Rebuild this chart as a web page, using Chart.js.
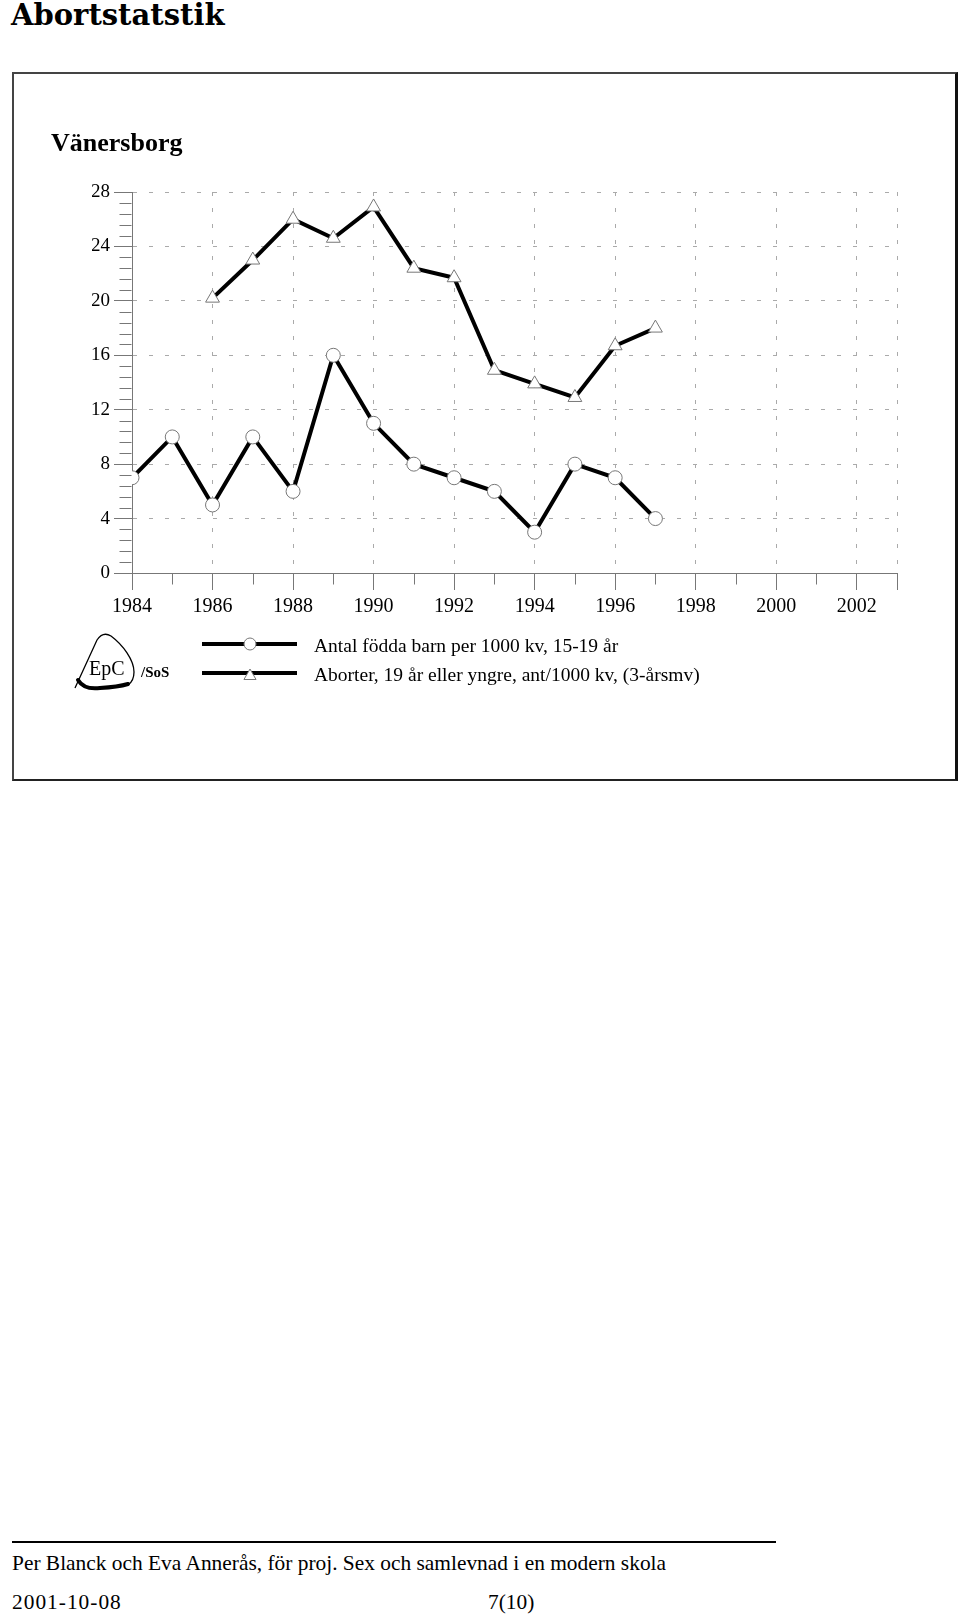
<!DOCTYPE html>
<html>
<head>
<meta charset="utf-8">
<title>Abortstatstik</title>
<script src="https://cdn.jsdelivr.net/npm/chart.js@4.4.0/dist/chart.umd.min.js"></script>
<style>
  body { margin: 0; background: #fff; width: 960px; height: 1616px; position: relative; overflow: hidden; }
  #title { position: absolute; left: 11px; top: 1px; font: bold 29px/29px 'DejaVu Serif', serif; color: #000; }
  #box { position: absolute; left: 12px; top: 72px; width: 941px; height: 705px;
         border-left: 2px solid #444; border-top: 2px solid #444; border-right: 3px solid #111; border-bottom: 2px solid #222; }
  #place { position: absolute; left: 51px; top: 130px; font: bold 26px/26px 'Liberation Serif', serif; color: #000; }
  #chart { position: absolute; left: 0; top: 0; }
  #rule { position: absolute; left: 12px; top: 1541px; width: 764px; height: 2px; background: #000; }
  .foot { position: absolute; font: 21.4px/21px 'Liberation Serif', serif; color: #000; white-space: nowrap; }
</style>
</head>
<body>
<div id="title">Abortstatstik</div>
<div id="box"></div>
<canvas id="chart" width="960" height="800"></canvas>
<div id="place">Vänersborg</div>
<div id="rule"></div>
<div class="foot" style="left:12px; top:1553px;">Per Blanck och Eva Annerås, för proj. Sex och samlevnad i en modern skola</div>
<div class="foot" style="left:12px; top:1592px; letter-spacing:1px;">2001-10-08</div>
<div class="foot" style="left:488px; top:1592px;">7(10)</div>

<script>
  // values
  var years = [1984, 1985, 1986, 1987, 1988, 1989, 1990, 1991, 1992, 1993, 1994, 1995, 1996, 1997];
  var births = [7, 10, 5, 10, 6, 16, 11, 8, 7, 6, 3, 8, 7, 4];
  var abortions = [null, null, 20.2, 23, 26, 24.6, 26.9, 22.4, 21.7, 14.9, 13.9, 12.9, 16.7, 18];
  var seriesLabels = ['Antal födda barn per 1000 kv, 15-19 år', 'Aborter, 19 år eller yngre, ant/1000 kv, (3-årsmv)'];
  var xMin = 1984, xMax = 2003;
  var yMin = 0, yMax = 28, yStep = 4, yMinorStep = 0.8;

  var axisGray = '#777';
  var gridGray = '#aaa';
  var serif = "'Liberation Serif', serif";

  function points(values) {
    return years.map(function (y, i) { return { x: y, y: values[i] }; });
  }

  var extras = {
    id: 'extras',
    afterDraw: function (chart) {
      var ctx = chart.ctx;
      var xs = chart.scales.x, ys = chart.scales.y;
      ctx.save();
      ctx.strokeStyle = axisGray;
      ctx.lineWidth = 1;

      // minor ticks on the y axis
      var left = Math.round(xs.left) - 0.5;
      for (var i = 0; i * yMinorStep <= yMax + 0.001; i++) {
        if (i % 5 === 0) continue;
        var py = Math.round(ys.getPixelForValue(i * yMinorStep)) + 0.5;
        ctx.beginPath();
        ctx.moveTo(left - 12, py);
        ctx.lineTo(left, py);
        ctx.stroke();
      }

      // short ticks for odd years
      var bottom = Math.round(ys.bottom) + 0.5;
      xs.ticks.forEach(function (t) {
        if (t.value % 2 === 0 || t.value === xMax) return;
        var px = Math.round(xs.getPixelForValue(t.value)) + 0.5;
        ctx.beginPath();
        ctx.moveTo(px, bottom);
        ctx.lineTo(px, bottom + 11);
        ctx.stroke();
      });

      // legend
      var rowY = [644, 673];
      chart.data.datasets.forEach(function (ds, k) {
        var y = rowY[k];
        ctx.strokeStyle = ds.borderColor;
        ctx.lineWidth = ds.borderWidth;
        ctx.beginPath();
        ctx.moveTo(202, y);
        ctx.lineTo(297, y);
        ctx.stroke();
        ctx.fillStyle = ds.pointBackgroundColor;
        ctx.strokeStyle = ds.pointBorderColor;
        ctx.lineWidth = 1;
        var my = ds.pointStyle === 'triangle' ? y + 3 : y;
        Chart.helpers.drawPoint(ctx, { pointStyle: ds.pointStyle, radius: ds.pointRadius - 1, borderWidth: 1, rotation: 0 }, 250, my);
        ctx.fillStyle = '#000';
        ctx.font = '19.5px ' + serif;
        ctx.textBaseline = 'alphabetic';
        ctx.textAlign = 'left';
        ctx.fillText(ds.label, 314, y + 8);
      });

      // EpC logo
      ctx.strokeStyle = '#000';
      ctx.lineWidth = 1.3;
      ctx.beginPath();
      ctx.moveTo(75, 688);
      ctx.lineTo(97, 640);
      ctx.quadraticCurveTo(103, 631, 111, 636);
      ctx.bezierCurveTo(123, 645, 134, 660, 134, 672);
      ctx.quadraticCurveTo(134, 681, 128, 685);
      ctx.stroke();
      ctx.lineWidth = 4;
      ctx.lineCap = 'round';
      ctx.beginPath();
      ctx.moveTo(78, 680);
      ctx.quadraticCurveTo(84, 690, 100, 688);
      ctx.quadraticCurveTo(118, 687, 128, 684);
      ctx.stroke();
      ctx.fillStyle = '#000';
      ctx.font = '20px ' + serif;
      ctx.fillText('EpC', 89, 675);
      ctx.font = 'bold 15px ' + serif;
      ctx.fillText('/SoS', 141, 677);
      ctx.restore();
    }
  };

  var config = {
    type: 'line',
    data: {
      datasets: [{
        label: seriesLabels[0],
        data: points(births),
        borderColor: '#000',
        borderWidth: 4,
        pointStyle: 'circle',
        pointRadius: 7,
        pointBackgroundColor: '#fff',
        pointBorderColor: axisGray,
        pointBorderWidth: 1
      }, {
        label: seriesLabels[1],
        data: points(abortions),
        borderColor: '#000',
        borderWidth: 4,
        pointStyle: 'triangle',
        pointRadius: 8,
        pointBackgroundColor: '#fff',
        pointBorderColor: axisGray,
        pointBorderWidth: 1
      }]
    },
    options: {
      responsive: false,
      animation: false,
      events: [],
      devicePixelRatio: 1,
      layout: { padding: { left: 92, top: 192, right: 63, bottom: 177 } },
      plugins: { legend: { display: false }, tooltip: { enabled: false } },
      scales: {
        x: {
          type: 'linear',
          min: xMin,
          max: xMax,
          afterFit: function (s) { s.height = 50; },
          ticks: {
            stepSize: 1,
            autoSkip: false,
            maxTicksLimit: 100,
            maxRotation: 0,
            padding: 5,
            color: '#000',
            font: { family: serif, size: 20 },
            callback: function (v) { return v % 2 === 0 ? String(v) : ''; }
          },
          grid: {
            tickLength: 17,
            color: function (c) {
              var v = c.tick ? c.tick.value : 0;
              return (v !== xMin && (v % 2 === 0 || v === xMax)) ? gridGray : 'rgba(0,0,0,0)';
            },
            tickColor: function (c) {
              var v = c.tick ? c.tick.value : 0;
              return (v % 2 === 0 || v === xMax) ? axisGray : 'rgba(0,0,0,0)';
            }
          },
          border: { color: axisGray, width: 1, dash: [4, 12] }
        },
        y: {
          min: yMin,
          max: yMax,
          afterFit: function (s) { s.width = 40; },
          ticks: {
            stepSize: yStep,
            padding: 4,
            color: '#000',
            font: { family: serif, size: 19 },
            callback: function (v) { return String(v); }
          },
          grid: {
            tickLength: 18,
            color: function (c) {
              var v = c.tick ? c.tick.value : 0;
              return v === yMin ? 'rgba(0,0,0,0)' : gridGray;
            },
            tickColor: axisGray
          },
          border: { color: axisGray, width: 1, dash: [4, 12] }
        }
      }
    },
    plugins: [extras]
  };

  window.onload = function () {
    var ctx = document.getElementById('chart').getContext('2d');
    window.myLine = new Chart(ctx, config);
  };
</script>
</body>
</html>
